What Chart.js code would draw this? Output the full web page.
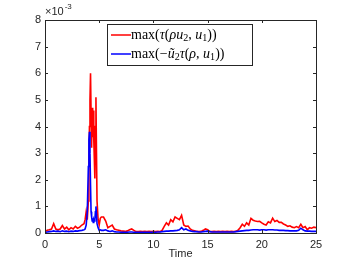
<!DOCTYPE html>
<html><head><meta charset="utf-8">
<script src="https://cdn.jsdelivr.net/npm/chart.js@4"></script>
<style>html,body{margin:0;padding:0;background:#fff;}#wrap{width:349px;height:262px;}</style>
</head><body><div id="wrap"><canvas id="c" width="349" height="262"></canvas></div>
<script>
const times = [0,0.2,0.4,0.6,0.8,1.0,1.2,1.4,1.6,1.8,2.0,2.2,2.4,2.6,2.8,3.0,3.2,3.4,3.6,
3.7,3.8,3.9,4.0,4.05,4.1,4.15,4.2,4.25,4.3,4.35,4.4,4.45,4.5,4.55,4.6,4.65,4.7,4.75,4.8,4.9,5.0,5.1,5.2,
5.4,5.6,5.8,6.0,6.2,6.4,6.6,6.8,7.0,7.2,
7.4,7.6,7.8,8.0,8.2,8.4,8.6,8.8,9.0,9.2,
9.4,9.6,9.8,10.0,10.2,10.4,10.6,10.8,11.0,11.2,
11.4,11.6,11.8,12.0,12.2,12.4,12.6,12.8,13.0,13.2,
13.4,13.6,13.8,14.0,14.2,14.4,14.6,14.8,15.0,15.2,
15.4,15.6,15.8,16.0,16.2,16.4,16.6,16.8,17.0,17.2,
17.4,17.6,17.8,18.0,18.2,18.4,18.6,18.8,19.0,19.2,
19.4,19.6,19.8,20.0,20.2,20.4,20.6,20.8,21.0,21.2,
21.4,21.6,21.8,22.0,22.2,22.4,22.6,22.8,23.0,23.2,
23.4,23.6,23.8,24.0,24.2,24.4,24.6,24.8,25.0];

// values in units of 1e-3
const maxTauRhoU2 = [0.05,0.1,0.12,0.15,0.35,0.15,0.12,0.15,0.28,0.15,0.22,0.12,0.2,0.15,0.25,0.18,0.22,0.3,0.35,
0.5,0.8,0.5,1.2,2.5,4.0,5.0,6.0,4.5,3.2,4.7,3.6,4.6,3.5,2.8,2.05,4.0,5.1,3.0,1.2,0.5,0.3,0.55,0.6,
0.6,0.45,0.2,0.25,0.3,0.15,0.12,0.1,0.08,0.07,
0.06,0.08,0.12,0.15,0.1,0.05,0.05,0.06,0.05,0.06,
0.05,0.06,0.05,0.06,0.05,0.06,0.05,0.1,0.25,0.38,
0.3,0.5,0.42,0.6,0.55,0.5,0.66,0.3,0.25,0.26,
0.15,0.1,0.08,0.06,0.05,0.06,0.1,0.15,0.12,0.06,
0.05,0.06,0.05,0.06,0.05,0.06,0.05,0.06,0.05,0.06,
0.05,0.06,0.1,0.2,0.33,0.25,0.38,0.3,0.55,0.48,
0.45,0.43,0.44,0.38,0.33,0.3,0.42,0.38,0.56,0.43,
0.47,0.4,0.4,0.34,0.3,0.25,0.27,0.22,0.2,0.24,
0.2,0.33,0.2,0.24,0.12,0.2,0.18,0.22,0.2];

const maxTildeU2Tau = [0.02,0.04,0.05,0.06,0.08,0.06,0.07,0.05,0.08,0.06,0.07,0.05,0.07,0.06,0.08,0.07,0.09,0.1,0.12,
0.15,0.3,0.8,2.5,3.5,3.8,3.0,1.8,0.8,0.6,0.45,0.55,0.4,0.5,0.45,0.5,0.8,1.0,0.7,0.35,0.2,0.1,0.12,0.1,
0.1,0.12,0.08,0.06,0.08,0.05,0.04,0.04,0.03,0.03,
0.03,0.03,0.04,0.04,0.03,0.03,0.03,0.03,0.03,0.03,
0.03,0.03,0.03,0.03,0.03,0.04,0.04,0.05,0.06,0.07,
0.07,0.08,0.08,0.09,0.1,0.12,0.2,0.12,0.15,0.1,
0.08,0.06,0.05,0.05,0.04,0.04,0.05,0.06,0.07,0.05,
0.04,0.04,0.04,0.04,0.04,0.04,0.04,0.04,0.04,0.04,
0.04,0.05,0.06,0.07,0.08,0.09,0.1,0.1,0.11,0.12,
0.12,0.12,0.11,0.12,0.12,0.11,0.12,0.12,0.12,0.11,
0.11,0.1,0.1,0.1,0.09,0.09,0.08,0.08,0.08,0.08,
0.1,0.18,0.12,0.08,0.07,0.07,0.06,0.06,0.06];

const xTicks = [0,5,10,15,20,25];
const yTicks = [0,1,2,3,4,5,6,7,8];
const xLabel = 'Time';
const expLabel = ['\u00d710', '-3'];

const AX = '#262626';
const SANS = '"Liberation Sans", Arial, sans-serif';
const SERIF = '"Liberation Serif", "DejaVu Serif", serif';

function rich(ctx, segs, x, y, size) {
  for (const s of segs) {
    const sz = s.sub ? size * 0.72 : size;
    ctx.font = (s.it ? 'italic ' : '') + sz + 'px ' + SERIF;
    ctx.fillText(s.t, x, y + (s.sub ? size * 0.22 : 0));
    x += ctx.measureText(s.t).width;
  }
}

const deco = {
  id: 'deco',
  afterDraw(chart) {
    const ctx = chart.ctx, a = chart.chartArea;
    const xs = chart.scales.x, ys = chart.scales.y;
    ctx.save();
    ctx.strokeStyle = AX; ctx.lineWidth = 1;
    ctx.strokeRect(Math.round(a.left) + 0.5, Math.round(a.top) + 0.5, Math.round(a.right - a.left), Math.round(a.bottom - a.top));
    ctx.beginPath();
    for (const v of xTicks) {
      const px = Math.round(xs.getPixelForValue(v)) + 0.5;
      ctx.moveTo(px, a.bottom); ctx.lineTo(px, a.bottom - 3);
      ctx.moveTo(px, a.top); ctx.lineTo(px, a.top + 3);
    }
    for (const v of yTicks) {
      const py = Math.round(ys.getPixelForValue(v)) + 0.5;
      ctx.moveTo(a.left, py); ctx.lineTo(a.left + 3, py);
      ctx.moveTo(a.right, py); ctx.lineTo(a.right - 3, py);
    }
    ctx.stroke();
    // x label
    ctx.fillStyle = AX;
    ctx.font = '11px ' + SANS;
    ctx.textAlign = 'center'; ctx.textBaseline = 'alphabetic';
    ctx.fillText(xLabel, (a.left + a.right) / 2, 257);
    // exponent
    ctx.textAlign = 'left';
    ctx.font = '11px ' + SANS;
    ctx.fillText(expLabel[0], a.left, 15);
    const w = ctx.measureText(expLabel[0]).width;
    ctx.font = '8px ' + SANS;
    ctx.fillText(expLabel[1], a.left + w + 1, 9);
    // legend
    const bx = 107.5, by = 24.5, bw = 145, bh = 41;
    ctx.fillStyle = '#fff';
    ctx.fillRect(bx, by, bw, bh);
    ctx.strokeStyle = '#262626';
    ctx.strokeRect(bx, by, bw, bh);
    const items = [
      {c: '#ff0000', y: 35, segs: [{t:'max('},{t:'\u03c4',it:1},{t:'('},{t:'\u03c1u',it:1},{t:'2',sub:1},{t:', '},{t:'u',it:1},{t:'1',sub:1},{t:'))'}]},
      {c: '#0000ff', y: 54, segs: [{t:'max(\u2212'},{t:'\u0169',it:1},{t:'2',sub:1},{t:'\u03c4',it:1},{t:'('},{t:'\u03c1',it:1},{t:', '},{t:'u',it:1},{t:'1',sub:1},{t:'))'}]}
    ];
    for (const it of items) {
      ctx.strokeStyle = it.c; ctx.lineWidth = 1.5;
      ctx.beginPath(); ctx.moveTo(111, it.y); ctx.lineTo(131, it.y); ctx.stroke();
      ctx.fillStyle = '#000';
      ctx.textBaseline = 'middle';
      rich(ctx, it.segs, 131, it.y + 0.5, 14);
    }
    ctx.restore();
  }
};

const pts = vals => vals.map((v, i) => ({x: times[i], y: v}));

new Chart(document.getElementById('c'), {
  type: 'line',
  data: {
    datasets: [
      {label: 'max(τ(ρu2, u1))', data: pts(maxTauRhoU2), borderColor: '#ff0000', borderWidth: 1.6, pointRadius: 0, fill: false, tension: 0, order: 1},
      {label: 'max(−ũ2τ(ρ, u1))', data: pts(maxTildeU2Tau), borderColor: '#0000ff', borderWidth: 1.6, pointRadius: 0, fill: false, tension: 0, order: 0}
    ]
  },
  options: {
    responsive: false, animation: false,
    layout: {padding: {top: 20, right: 33, left: 0, bottom: 0}},
    plugins: {legend: {display: false}, tooltip: {enabled: false}},
    scales: {
      x: {
        type: 'linear', min: 0, max: 25,
        afterFit: s => { s.height = 29; },
        afterBuildTicks: s => { s.ticks = xTicks.map(v => ({value: v})); },
        grid: {display: false, drawTicks: false},
        border: {display: false},
        ticks: {padding: 5, color: AX, font: {family: SANS, size: 11}, maxRotation: 0}
      },
      y: {
        min: 0, max: 8,
        afterFit: s => { s.width = 45; },
        afterBuildTicks: s => { s.ticks = yTicks.map(v => ({value: v})); },
        grid: {display: false, drawTicks: false},
        border: {display: false},
        ticks: {padding: 4, color: AX, font: {family: SANS, size: 11}}
      }
    }
  },
  plugins: [deco]
});
</script>
</body></html>
